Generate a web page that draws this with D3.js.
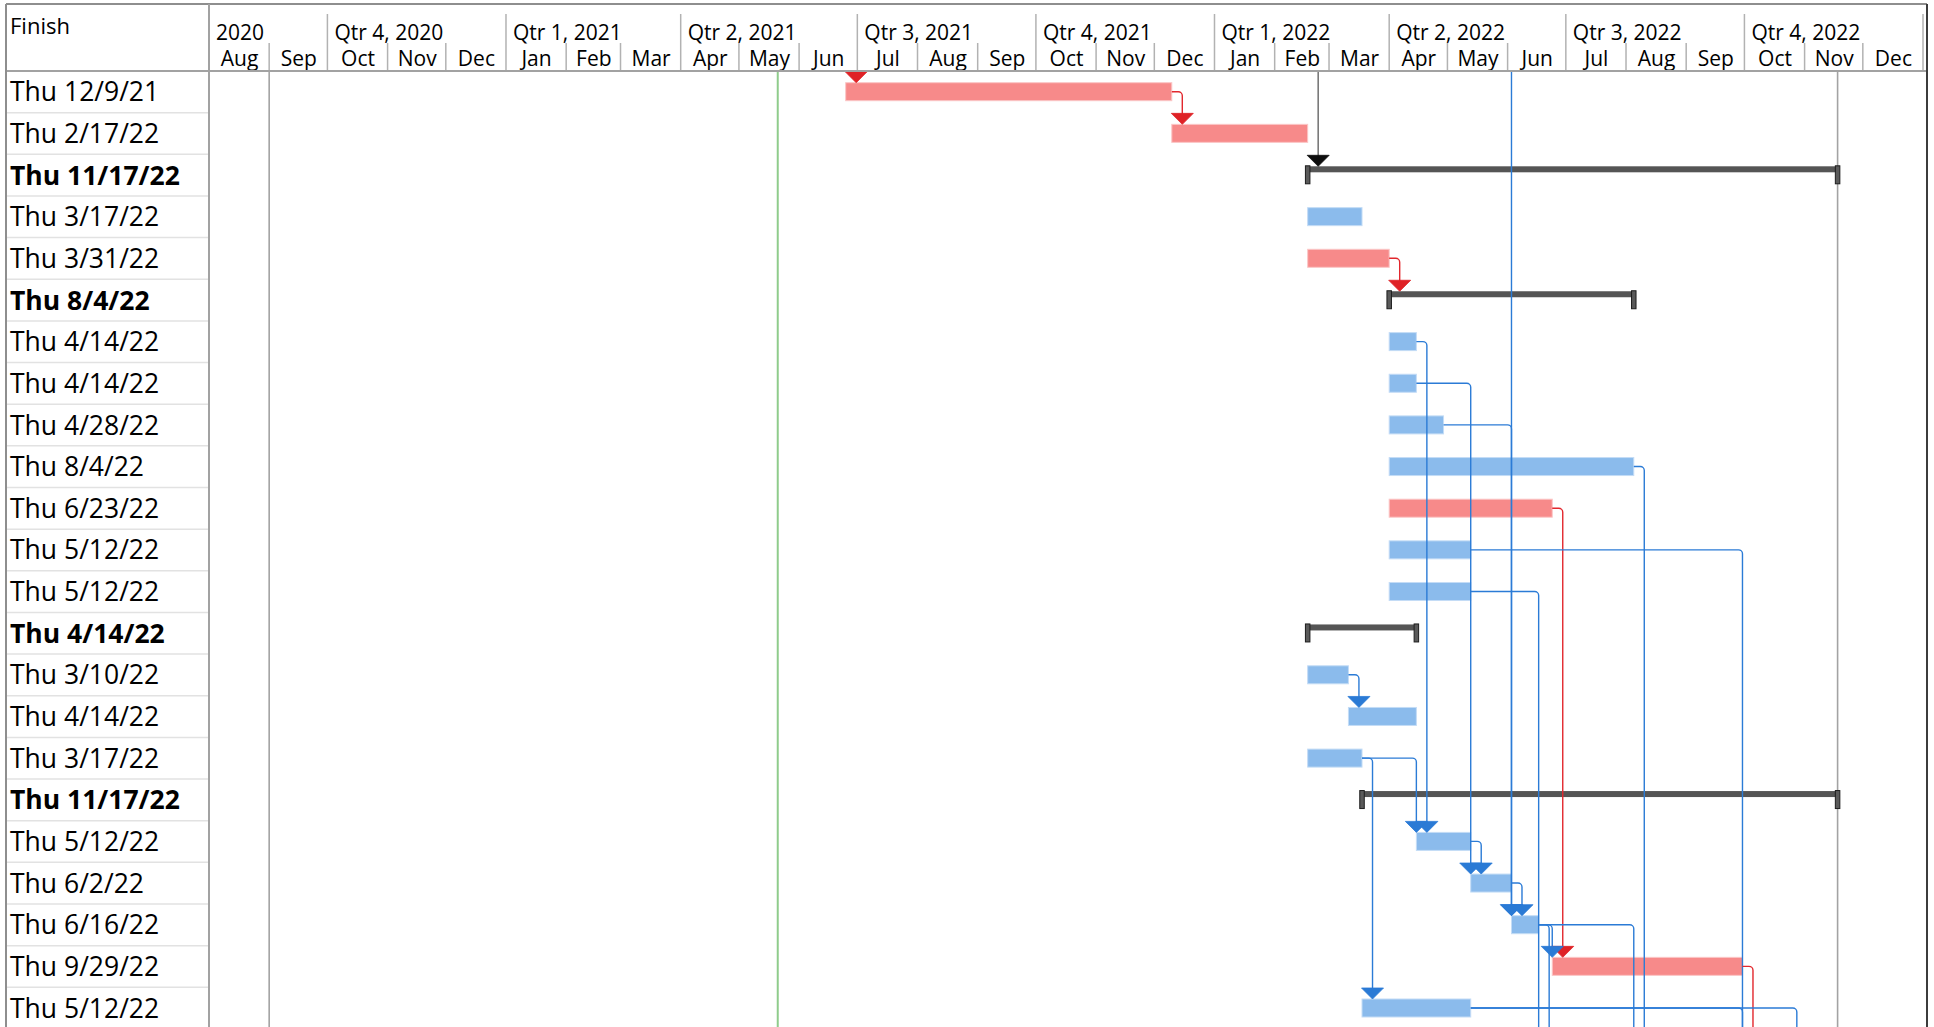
<!DOCTYPE html>
<html>
<head>
<meta charset="utf-8">
<script src="https://cdn.jsdelivr.net/npm/d3@7"></script>
<style>
  html, body { margin: 0; padding: 0; background: #ffffff; }
  svg { display: block; font-family: "Open Sans", "Noto Sans", sans-serif; }
</style>
</head>
<body>
<script>
// ---- Schedule data -------------------------------------------------------
// Task kinds: "task" (normal), "critical" (on the critical path), "summary"
const taskKind = [
  "critical", "critical", "summary", "task", "critical", "summary",
  "task", "task", "task", "task", "critical", "task", "task",
  "summary", "task", "task", "task", "summary",
  "task", "task", "task", "critical", "task"
];
const taskStart = [
  "2021-06-25", "2021-12-10", "2022-02-18", "2022-02-18", "2022-02-18", "2022-04-01",
  "2022-04-01", "2022-04-01", "2022-04-01", "2022-04-01", "2022-04-01", "2022-04-01", "2022-04-01",
  "2022-02-18", "2022-02-18", "2022-03-11", "2022-02-18", "2022-03-18",
  "2022-04-15", "2022-05-13", "2022-06-03", "2022-06-24", "2022-03-18"
];
const taskFinish = [
  "2021-12-09", "2022-02-17", "2022-11-17", "2022-03-17", "2022-03-31", "2022-08-04",
  "2022-04-14", "2022-04-14", "2022-04-28", "2022-08-04", "2022-06-23", "2022-05-12", "2022-05-12",
  "2022-04-14", "2022-03-10", "2022-04-14", "2022-03-17", "2022-11-17",
  "2022-05-12", "2022-06-02", "2022-06-16", "2022-09-29", "2022-05-12"
];

// Predecessors scrolled out of view above the first row
const hiddenPredecessors = {
  p1: { finish: "2021-06-24", kind: "critical" },
  p2: { finish: "2022-02-17", kind: "summary" },
  p3: { finish: "2022-05-12", kind: "task" }
};
// Successors further down the list (start dates)
const hiddenSuccessors = {
  s1: "2022-06-17",
  s2: "2022-08-05",
  s3: "2022-09-30",
  s4: "2022-10-28"
};
// Finish-to-start links: [predecessor, successor] (row index or hidden task id)
const links = [
  ["p1", 0], [0, 1], ["p2", 2], [4, 5],
  [6, 18], [7, 19], [8, 20], ["p3", 20],
  [9, "s2"], [10, 21], [11, "s3"], [12, "s1"],
  [14, 15], [16, 18], [16, 22],
  [18, 19], [19, 20],
  [20, "s1"], [20, 21], [20, "s2"],
  [21, "s3"], [22, "s3"], [22, "s4"]
];

// Timescale tiers
const quarterLabels = ["2020", "Qtr 4, 2020", "Qtr 1, 2021", "Qtr 2, 2021", "Qtr 3, 2021",
  "Qtr 4, 2021", "Qtr 1, 2022", "Qtr 2, 2022", "Qtr 3, 2022", "Qtr 4, 2022"];
const monthLabels = ["Aug", "Sep", "Oct", "Nov", "Dec", "Jan", "Feb", "Mar", "Apr", "May", "Jun",
  "Jul", "Aug", "Sep", "Oct", "Nov", "Dec", "Jan", "Feb", "Mar", "Apr", "May", "Jun",
  "Jul", "Aug", "Sep", "Oct", "Nov", "Dec"];

const timelineStart = "2020-08-01";
const timelineEnd = "2023-01-01";
const projectStart = "2020-09-01";
const projectFinish = "2022-11-17";
const currentDate = "2021-05-21";

// ---- Layout ---------------------------------------------------------------
const W = 1934, H = 1027;
const frameLeft = 6, frameTop = 4, colRight = 209, headerBottom = 71, chartRight = 1923, frameRight = 1927;
const rowH = 41.65;

const parse = d3.utcParse("%Y-%m-%d");
const fmtFinish = d3.utcFormat("%a %-m/%-d/%y");
const endOfDay = s => d3.utcDay.offset(parse(s), 1);

const tasks = taskKind.map((kind, i) => ({
  i, kind,
  start: parse(taskStart[i]),
  end: endOfDay(taskFinish[i]),
  label: fmtFinish(parse(taskFinish[i]))
}));

const x = d3.scaleUtc()
  .domain([parse(timelineStart), parse(timelineEnd)])
  .range([colRight, chartRight]);

const y = d3.scaleBand()
  .domain(d3.range(tasks.length))
  .range([headerBottom, headerBottom + rowH * tasks.length])
  .paddingInner(0).paddingOuter(0);

const barOff = 11.7, barH = 18;
const sumOff = 12, sumH = 6;
const arrowW = 22, arrowH = 11;
const slotGap = 10.5, cornerR = 4;

const colors = {
  task: { fill: "#8bbbec", edge: "#c4dcf6", link: "#2b7bd6", arrow: "#2a7ad5" },
  critical: { fill: "#f78a8a", edge: "#fbc6c6", link: "#e2272d", arrow: "#df2226" },
  summary: { fill: "#555555", edge: "#1d1d1d", link: "#666666", arrow: "#0d0d0d" }
};

const svg = d3.select("body").append("svg")
  .attr("width", W).attr("height", H);

svg.append("defs").append("clipPath").attr("id", "chart-clip")
  .append("rect")
  .attr("x", colRight + 1).attr("y", headerBottom + 1)
  .attr("width", frameRight - colRight - 2).attr("height", H - headerBottom);

// ---- Left table column ------------------------------------------------------
const table = svg.append("g");
table.selectAll("line.rowsep")
  .data(tasks)
  .join("line")
  .attr("class", "rowsep")
  .attr("x1", frameLeft).attr("x2", colRight)
  .attr("y1", d => y(d.i) + y.bandwidth())
  .attr("y2", d => y(d.i) + y.bandwidth())
  .attr("stroke", "#e2e2e2").attr("stroke-width", 1.5);

table.selectAll("text.finish")
  .data(tasks)
  .join("text")
  .attr("class", "finish")
  .attr("x", 10)
  .attr("y", d => y(d.i) + y.bandwidth() / 2 + 9.5)
  .attr("font-size", 26.5)
  .attr("font-weight", d => d.kind === "summary" ? 700 : 400)
  .attr("fill", "#000")
  .text(d => d.label);

table.append("text")
  .attr("x", 10).attr("y", 34)
  .attr("font-size", 22).attr("fill", "#000")
  .text("Finish");

// ---- Timescale header -------------------------------------------------------
const header = svg.append("g");
const quarterStarts = d3.utcMonth.every(3).range(d3.utcMonth.offset(parse(timelineStart), -1), parse(timelineEnd));
const quarterEdges = quarterStarts.map(d => d < parse(timelineStart) ? parse(timelineStart) : d);

header.selectAll("line.qsep")
  .data(quarterStarts.filter(d => d > parse(timelineStart)).concat([parse(timelineEnd)]))
  .join("line")
  .attr("class", "qsep")
  .attr("x1", d => x(d)).attr("x2", d => x(d))
  .attr("y1", 14).attr("y2", headerBottom)
  .attr("stroke", "#b2b2b2").attr("stroke-width", 1.5);

header.selectAll("text.qlab")
  .data(quarterEdges)
  .join("text")
  .attr("class", "qlab")
  .attr("x", d => x(d) + 7)
  .attr("y", 40)
  .attr("font-size", 21).attr("fill", "#000")
  .text((d, i) => quarterLabels[i]);

const monthStarts = d3.utcMonth.range(parse(timelineStart), parse(timelineEnd));
header.selectAll("line.msep")
  .data(monthStarts.filter(d => d.getUTCMonth() % 3 !== 0 && d > parse(timelineStart)))
  .join("line")
  .attr("class", "msep")
  .attr("x1", d => x(d)).attr("x2", d => x(d))
  .attr("y1", 43).attr("y2", headerBottom)
  .attr("stroke", "#b2b2b2").attr("stroke-width", 1.5);

// Month tier drawn with an axis whose ticks sit at the middle of each month
const monthMid = monthStarts.map(d => new Date((d.getTime() + d3.utcMonth.offset(d, 1).getTime()) / 2));
const monthAxis = d3.axisTop(x)
  .tickValues(monthMid)
  .tickSize(0)
  .tickPadding(0)
  .tickFormat((d, i) => monthLabels[i]);
const mAxisG = header.append("g")
  .attr("transform", `translate(0, 66)`)
  .call(monthAxis);
mAxisG.select(".domain").remove();
mAxisG.selectAll("text")
  .attr("font-family", "\"Open Sans\", \"Noto Sans\", sans-serif")
  .attr("font-size", 21)
  .attr("fill", "#000")
  .attr("dy", 0);

// ---- Chart body -------------------------------------------------------------
const body = svg.append("g").attr("clip-path", "url(#chart-clip)");

// Project start / finish lines and current date line
body.selectAll("line.projline")
  .data([parse(projectStart), endOfDay(projectFinish)])
  .join("line")
  .attr("class", "projline")
  .attr("x1", d => x(d)).attr("x2", d => x(d))
  .attr("y1", headerBottom).attr("y2", H)
  .attr("stroke", "#a3a3a3").attr("stroke-width", 1.6);

body.append("line")
  .attr("x1", x(parse(currentDate))).attr("x2", x(parse(currentDate)))
  .attr("y1", headerBottom).attr("y2", H)
  .attr("stroke", "#8fcc8c").attr("stroke-width", 2);

// Task bars
const plain = tasks.filter(d => d.kind !== "summary");
body.selectAll("rect.bar")
  .data(plain)
  .join("rect")
  .attr("class", "bar")
  .attr("x", d => x(d.start))
  .attr("y", d => y(d.i) + barOff)
  .attr("width", d => x(d.end) - x(d.start))
  .attr("height", barH)
  .attr("fill", d => colors[d.kind].fill)
  .attr("stroke", d => colors[d.kind].edge)
  .attr("stroke-width", 1);

// Summary bars with end caps
const summaries = tasks.filter(d => d.kind === "summary");
body.selectAll("rect.sum")
  .data(summaries)
  .join("rect")
  .attr("class", "sum")
  .attr("x", d => x(d.start))
  .attr("y", d => y(d.i) + sumOff)
  .attr("width", d => x(d.end) - x(d.start))
  .attr("height", sumH)
  .attr("fill", colors.summary.fill);

body.selectAll("rect.cap")
  .data(summaries.flatMap(d => [{ i: d.i, t: d.start }, { i: d.i, t: d.end }]))
  .join("rect")
  .attr("class", "cap")
  .attr("x", d => x(d.t) - 2.25)
  .attr("y", d => y(d.i) + 11.5)
  .attr("width", 4.5)
  .attr("height", 18)
  .attr("fill", "#5a5a5a")
  .attr("stroke", colors.summary.edge)
  .attr("stroke-width", 1);

// Dependency links
const linkData = links.map(([from, to]) => {
  const pred = typeof from === "number"
    ? { visible: true, row: from, end: tasks[from].end, kind: tasks[from].kind }
    : { visible: false, end: endOfDay(hiddenPredecessors[from].finish), kind: hiddenPredecessors[from].kind };
  const succ = typeof to === "number"
    ? { visible: true, row: to, start: tasks[to].start, kind: tasks[to].kind }
    : { visible: false, start: parse(hiddenSuccessors[to]) };
  // A predecessor finishing right at the successor start enters one slot to the right
  const slot = pred.end.getTime() === succ.start.getTime() ? 1 : 0;
  const vx = x(succ.start) + slot * slotGap;
  const tipY = succ.visible ? y(succ.row) + (succ.kind === "summary" ? sumOff : barOff) : null;
  return { pred, succ, vx, tipY, kind: pred.kind };
});

body.selectAll("path.link")
  .data(linkData)
  .join("path")
  .attr("class", "link")
  .attr("fill", "none")
  .attr("stroke", d => colors[d.kind].link)
  .attr("stroke-width", 1.4)
  .attr("d", d => {
    const yEnd = d.succ.visible ? d.tipY - arrowH + 1 : H + 10;
    if (!d.pred.visible) return `M${d.vx},${headerBottom}V${yEnd}`;
    const x0 = x(d.pred.end);
    const y0 = y(d.pred.row) + barOff + barH / 2;
    const p = d3.path();
    p.moveTo(x0, y0);
    p.lineTo(d.vx - cornerR, y0);
    p.arcTo(d.vx, y0, d.vx, y0 + cornerR, cornerR);
    p.lineTo(d.vx, yEnd);
    return p.toString();
  });

body.selectAll("path.arrow")
  .data(linkData.filter(d => d.succ.visible))
  .join("path")
  .attr("class", "arrow")
  .attr("fill", d => colors[d.kind].arrow)
  .attr("stroke", d => colors[d.kind].arrow)
  .attr("stroke-width", 0.8)
  .attr("stroke-linejoin", "miter")
  .attr("d", d => `M${d.vx - arrowW / 2},${d.tipY - arrowH}L${d.vx + arrowW / 2},${d.tipY - arrowH}L${d.vx},${d.tipY}Z`);

// ---- Frame ------------------------------------------------------------------
const frame = svg.append("g");
frame.append("line")
  .attr("x1", frameLeft).attr("x2", frameRight).attr("y1", frameTop).attr("y2", frameTop)
  .attr("stroke", "#8e8e8e").attr("stroke-width", 2);
frame.append("line")
  .attr("x1", frameLeft).attr("x2", frameRight).attr("y1", headerBottom).attr("y2", headerBottom)
  .attr("stroke", "#a2a2a2").attr("stroke-width", 2);
frame.append("line")
  .attr("x1", frameLeft).attr("x2", frameLeft).attr("y1", frameTop).attr("y2", H)
  .attr("stroke", "#8e8e8e").attr("stroke-width", 2);
frame.append("line")
  .attr("x1", colRight).attr("x2", colRight).attr("y1", frameTop).attr("y2", H)
  .attr("stroke", "#a2a2a2").attr("stroke-width", 2);
frame.append("line")
  .attr("x1", frameRight).attr("x2", frameRight).attr("y1", frameTop).attr("y2", H)
  .attr("stroke", "#3c3c3c").attr("stroke-width", 2);
</script>
</body>
</html>
